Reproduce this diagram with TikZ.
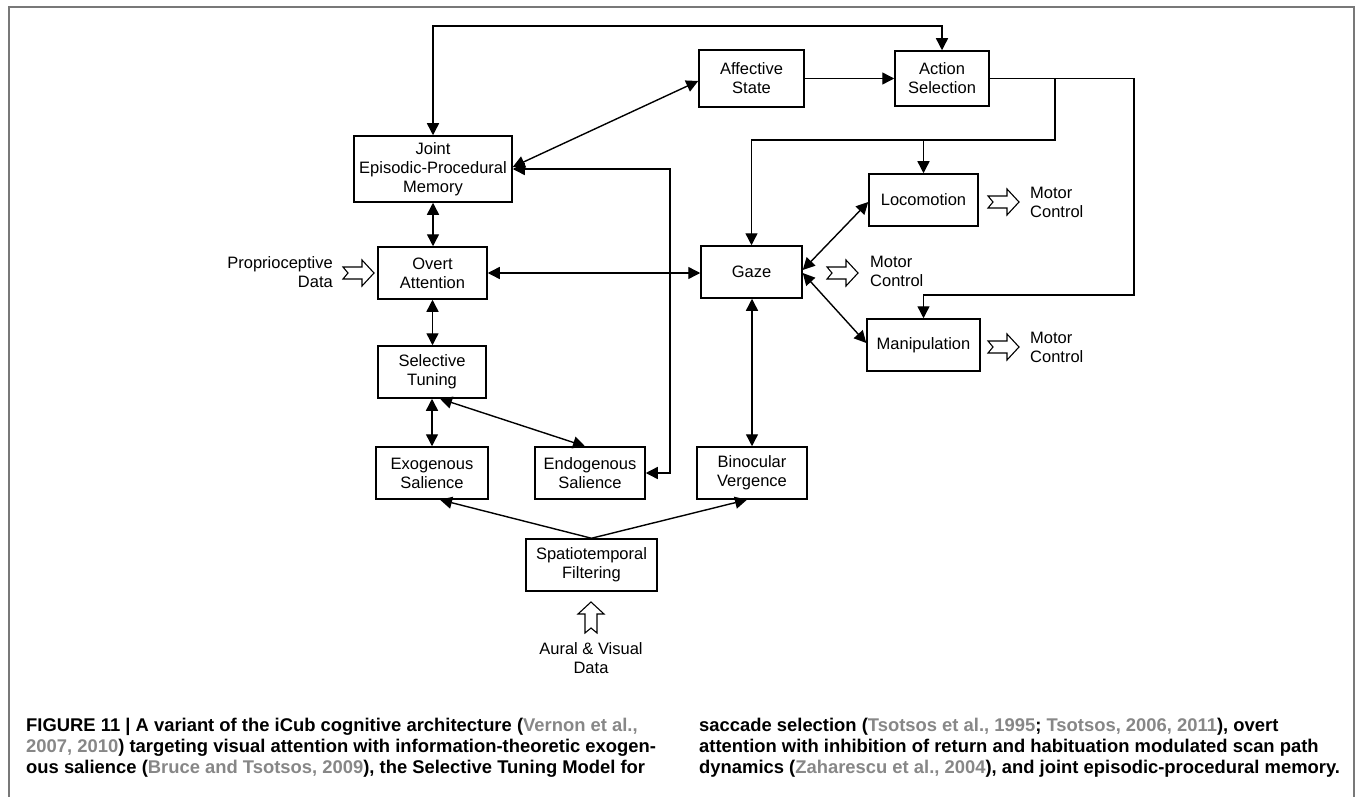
\documentclass[tikz,border=0pt]{standalone}
\usepackage{fontspec}
\setmainfont{Liberation Sans}
\usetikzlibrary{arrows.meta}

\definecolor{framegray}{RGB}{120,120,120}
\definecolor{citegray}{RGB}{135,135,135}

\newcommand{\refcite}[1]{\textcolor{citegray}{#1}}

\tikzset{
  block/.style={draw, line width=1.5pt, fill=white, inner sep=0pt, align=center,
    font=\fontsize{16.5}{19}\selectfont},
  lbl/.style={inner sep=0pt, font=\fontsize{16.5}{19}\selectfont},
  plainline/.style={line width=1.4pt},
  link/.style={line width=1.4pt, -{Triangle[length=12pt,width=12pt]}},
  dlink/.style={line width=1.4pt, {Triangle[length=12pt,width=12pt]}-{Triangle[length=12pt,width=12pt]}},
  capline/.style={inner sep=0pt, anchor=base west, font=\fontsize{18.4}{21}\selectfont\bfseries},
  openarrow/.pic={
    \draw[line width=1.1pt, fill=white, line join=miter]
      (0,6) -- (19,6) -- (19,13) -- (31,0) -- (19,-13) -- (19,-6) -- (0,-6) -- (5,0) -- cycle;
  }
}

\begin{document}
\begin{tikzpicture}[x=1pt, y=-1pt]
  \useasboundingbox (0,0) rectangle (1355,797);

  % open-bottom frame
  \draw[framegray, line width=2pt] (9,797) -- (9,7) -- (1353.5,7) -- (1353.5,797);

  % boxes
  \node[block, minimum width=158pt, minimum height=66pt] (joint) at (433,169) {Joint\\Episodic-Procedural\\Memory};
  \node[block, minimum width=109pt, minimum height=52pt] (overt) at (432.5,273) {Overt\\Attention};
  \node[block, minimum width=108pt, minimum height=52pt] (sel) at (432,372) {Selective\\Tuning};
  \node[block, minimum width=112pt, minimum height=52pt] (exo) at (432,473) {Exogenous\\Salience};
  \node[block, minimum width=110pt, minimum height=52pt] (endo) at (590,473) {Endogenous\\Salience};
  \node[block, minimum width=110pt, minimum height=52pt] (bino) at (752,473) {Binocular\\Vergence};
  \node[block, minimum width=131pt, minimum height=52pt] (spatio) at (591.5,565) {Spatiotemporal\\Filtering};
  \node[block, minimum width=105pt, minimum height=57pt] (affect) at (751.5,78.5) {Affective\\State};
  \node[block, minimum width=94pt, minimum height=55pt] (action) at (942,78.5) {Action\\Selection};
  \node[block, minimum width=109pt, minimum height=52pt] (loco) at (923.5,200) {Locomotion};
  \node[block, minimum width=101pt, minimum height=52pt] (gaze) at (751.5,272) {Gaze};
  \node[block, minimum width=113pt, minimum height=52pt] (manip) at (923.5,345) {Manipulation};

  % external inputs and outputs
  \node[lbl, anchor=east, align=right] (proprio) at (333,272.5) {Proprioceptive\\Data};
  \node[lbl, anchor=west, align=left] (mcgaze) at (870,271) {Motor\\Control};
  \node[lbl, anchor=west, align=left] (mcloco) at (1030,202.5) {Motor\\Control};
  \node[lbl, anchor=west, align=left] (mcmanip) at (1030,347.5) {Motor\\Control};
  \node[lbl, align=center] (aural) at (591,658.5) {Aural \& Visual\\Data};

  \pic at (343,273) {openarrow};
  \pic at (827,273) {openarrow};
  \pic at (988,202) {openarrow};
  \pic at (988,347) {openarrow};
  \pic[rotate=90] at (591,633) {openarrow};

  % memory / action loop across the top
  \draw[dlink] (joint.north) -- (433,26) -- (942,26) -- (action.north);
  \draw[dlink] ([yshift=2pt]joint.east) -- ([yshift=-2.5pt]affect.west);
  \draw[link] (affect.east) -- (action.west);
  \draw[dlink] (joint.east) -- (670,169) -- (670,473) -- (endo.east);

  % attention chain
  \draw[dlink] (joint.south) -- (overt.north -| joint.south);
  \draw[dlink] (overt.east) -- (gaze.west |- overt.east);
  \draw[dlink] (overt.south) -- (sel.north -| overt.south);
  \draw[dlink] (sel.south) -- (exo.north);
  \draw[dlink] ([xshift=8pt]sel.south) -- ([xshift=-5pt]endo.north);

  % low-level filtering
  \draw[link] (spatio.north) -- ([xshift=8pt]exo.south);
  \draw[link] (spatio.north) -- ([xshift=-5pt]bino.south);
  \draw[dlink] (gaze.south -| bino.north) -- (bino.north);

  % action selection outputs
  \coordinate (split1) at (1055,78.5);
  \coordinate (split2) at (923.5,140);
  \draw[link] (action.east) -| (1134,295) -| (manip.north);
  \draw[link] (split1) -- (1055,140) -| (gaze.north);
  \draw[link] (split2) -- (loco.north);

  % gaze couplings
  \draw[dlink] ([yshift=2pt]gaze.east) -- ([yshift=-2pt]loco.west);
  \draw[dlink] ([yshift=-1pt]gaze.east) -- ([yshift=2pt]manip.west);

  % caption
  \node[capline] (capa) at (26,731) {FIGURE 11 | A variant of the iCub cognitive architecture (\refcite{Vernon et al.,}};
  \node[capline] (capb) at (26,752) {\refcite{2007, 2010}) targeting visual attention with information-theoretic exogen-};
  \node[capline] (capc) at (26,773) {ous salience (\refcite{Bruce and Tsotsos, 2009}), the Selective Tuning Model for};
  \node[capline] (capd) at (699,731) {saccade selection (\refcite{Tsotsos et al., 1995}; \refcite{Tsotsos, 2006, 2011}), overt};
  \node[capline] (cape) at (699,752) {attention with inhibition of return and habituation modulated scan path};
  \node[capline] (capf) at (699,773) {dynamics (\refcite{Zaharescu et al., 2004}), and joint episodic-procedural memory.};
\end{tikzpicture}
\end{document}
